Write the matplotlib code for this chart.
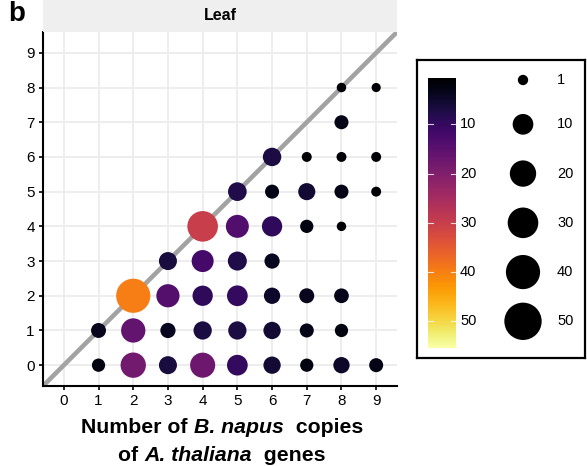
import numpy as np
import matplotlib
matplotlib.use("Agg")
import matplotlib.pyplot as plt
from matplotlib.colors import Normalize
from matplotlib.patches import Rectangle
from matplotlib.offsetbox import TextArea, HPacker, VPacker, AnnotationBbox

plt.rcParams['font.family'] = ['Liberation Sans', 'DejaVu Sans']

# copies per gene (x) vs (y), share of genes in % for each combination
copies_x = [1, 2, 3, 4, 5, 6, 7, 8, 9,
            1, 2, 3, 4, 5, 6, 7, 8,
            2, 3, 4, 5, 6, 7, 8,
            3, 4, 5, 6,
            4, 5, 6, 7, 8,
            5, 6, 7, 8, 9,
            6, 7, 8, 9,
            8,
            8, 9]
copies_y = [0, 0, 0, 0, 0, 0, 0, 0, 0,
            1, 1, 1, 1, 1, 1, 1, 1,
            2, 2, 2, 2, 2, 2, 2,
            3, 3, 3, 3,
            4, 4, 4, 4, 4,
            5, 5, 5, 5, 5,
            6, 6, 6, 6,
            7,
            8, 8]
share = [2.3, 18.0, 6.5, 17.5, 10.0, 5.7, 2.3, 4.7, 2.8,
         3.5, 16.0, 3.7, 6.8, 6.8, 5.7, 2.8, 2.3,
         40.0, 14.0, 9.4, 10.0, 4.7, 3.5, 3.3,
         6.5, 12.0, 7.7, 3.7,
         30.0, 13.6, 9.4, 2.3, 0.8,
         7.3, 2.8, 5.5, 2.8, 0.9,
         7.0, 0.9, 0.9, 0.9,
         2.8,
         0.8, 0.75]

ticks = list(range(10))
color_breaks = [10, 20, 30, 40, 50]
size_breaks = [1, 10, 20, 30, 40, 50]
lo, hi = 0.66, 55.4  # scale limits shared by colour and size

DPI = 100
W, H = 587, 466


def px_box(l, t, r, b):
    return [l / W, 1 - b / H, (r - l) / W, (b - t) / H]


def dot_area(v):
    v = np.asarray(v, dtype=float)
    d = 7.9 + 31 * np.sqrt((v - lo) / (hi - lo))  # diameter in px
    return (d * 72 / DPI) ** 2


norm = Normalize(lo, hi)

fig = plt.figure(figsize=(W / DPI, H / DPI), dpi=DPI)

ax = fig.add_axes(px_box(43, 32, 397, 386))
ax.set_xlim(-0.6, 9.6)
ax.set_ylim(-0.6, 9.6)
ax.set_xticks(ticks)
ax.set_yticks(ticks)
ax.grid(color='#EDEDED', lw=1.4)
ax.set_axisbelow(True)
ax.axline((0, 0), slope=1, color='#A3A3A3', lw=3.3, zorder=2)
ax.scatter(copies_x, copies_y, s=dot_area(share), c=share, cmap='inferno',
           norm=norm, edgecolors='none', zorder=3)
for side in ['top', 'right']:
    ax.spines[side].set_visible(False)
for side in ['left', 'bottom']:
    ax.spines[side].set_linewidth(1.5)
ax.tick_params(length=3, width=1.2, labelsize=11, pad=3, colors='black')

# facet strip
fig.add_artist(Rectangle((43 / W, 1 - 32 / H), (397 - 43) / W, 32 / H,
                         transform=fig.transFigure, fc='#EFEFEF', ec='none'))
fig.text(220 / W, 1 - 16 / H, 'Leaf', ha='center', va='center',
         fontsize=11.5, fontweight='bold')

fig.text(8 / W, 1 - 1 / H, 'b', ha='left', va='top', fontsize=20,
         fontweight='bold')

# two-line x label with italic species names
bold = dict(fontsize=15.3, fontweight='bold')
bold_it = dict(fontsize=15.3, fontweight='bold', fontstyle='italic')
line1 = HPacker(children=[TextArea('Number of ', textprops=bold),
                          TextArea('B. napus', textprops=bold_it),
                          TextArea('  copies', textprops=bold)],
                pad=0, sep=0, align='baseline')
line2 = HPacker(children=[TextArea('of ', textprops=bold),
                          TextArea('A. thaliana', textprops=bold_it),
                          TextArea('  genes', textprops=bold)],
                pad=0, sep=0, align='baseline')
xlab = VPacker(children=[line1, line2], pad=0, sep=6, align='center')
fig.add_artist(AnnotationBbox(xlab, (222 / W, 1 - 441.5 / H),
                              xycoords='figure fraction', frameon=False,
                              box_alignment=(0.5, 0.5)))

# legend panel: colour bar and size keys on one value axis
lax = fig.add_axes(px_box(417, 60, 585, 358))
grad = np.linspace(lo, hi, 300)[:, None]
lax.imshow(grad, cmap='inferno', norm=norm, extent=[11, 39, lo, hi],
           origin='lower', aspect='auto', interpolation='bilinear')
for b in color_breaks:
    lax.plot([11, 16], [b, b], color='white', lw=0.8, alpha=0.8)
    lax.plot([34, 39], [b, b], color='white', lw=0.8, alpha=0.8)
    lax.text(43, b, str(b), ha='left', va='center', fontsize=10.5)
lax.scatter(np.full(len(size_breaks), 106), size_breaks,
            s=dot_area(size_breaks), c='black', edgecolors='none')
for b in size_breaks:
    lax.text(140, b, str(b), ha='left', va='center', fontsize=10.5)
lax.set_xlim(0, 168)
lax.set_ylim(57.45, -3.06)
lax.set_xticks([])
lax.set_yticks([])
for sp in lax.spines.values():
    sp.set_linewidth(1.6)

fig.savefig('out.png', dpi=DPI)
